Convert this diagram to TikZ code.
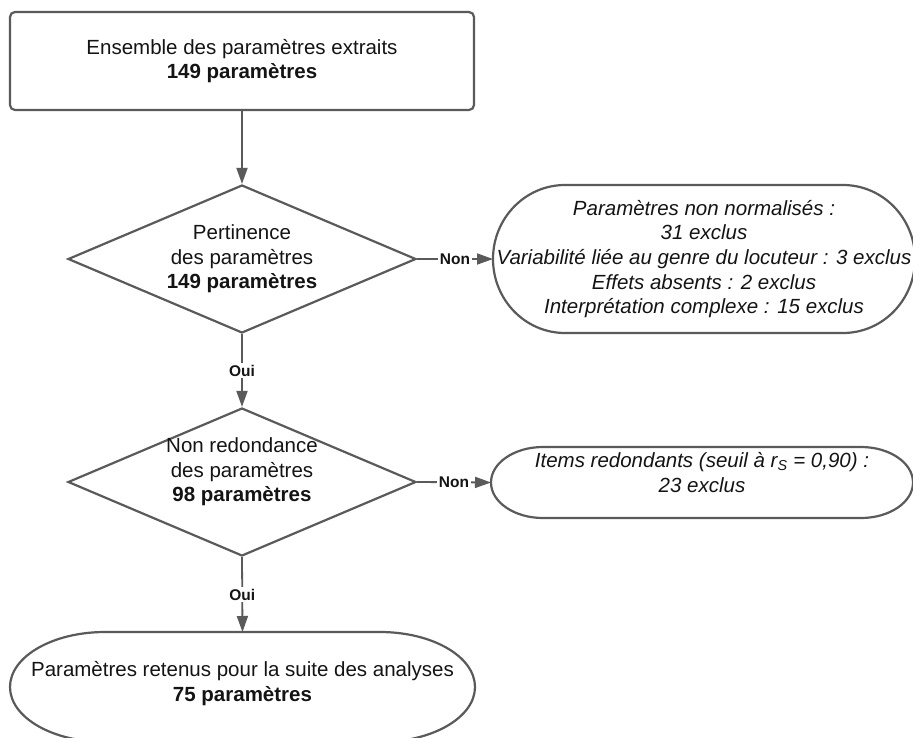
\documentclass[tikz,border=0pt]{standalone}
\usepackage{fontspec}
\setmainfont{Liberation Sans}
\usetikzlibrary{shapes.geometric,arrows.meta}
\definecolor{edge}{HTML}{5A5A5A}
\definecolor{ink}{HTML}{141414}
\tikzset{
  shapeline/.style={draw=edge,line width=2.2pt},
  conn/.style={draw=edge,line width=1.8pt,-{Triangle[length=16pt,width=11pt]}},
  lbl/.style={fill=white,inner sep=1.5pt,text=ink,font=\fontsize{15.5}{18}\selectfont\bfseries},
  txt/.style={align=center,text=ink,font=\fontsize{20.5}{24.6}\selectfont},
  itxt/.style={align=center,text=ink,font=\fontsize{20.5}{24.6}\selectfont\itshape},
  termbox/.style={inner sep=0pt,outer sep=0pt},
  decision/.style={diamond,shapeline,aspect=2.35,inner sep=0pt,minimum width=348pt,minimum height=148pt},
}
\newcommand\termoutline[3]{%
  \draw[shapeline] ([xshift=#2pt]#1.north west) -- ([xshift=-#2pt]#1.north east)
    arc[start angle=90,end angle=-90,x radius=#2pt,y radius=#3pt]
    -- ([xshift=#2pt]#1.south west)
    arc[start angle=270,end angle=90,x radius=#2pt,y radius=#3pt] -- cycle;}
\begin{document}
\begin{tikzpicture}[x=1pt,y=1pt]
\useasboundingbox (0,0) rectangle (913,-737);
\clip (0,0) rectangle (913,-737);

% start box
\node[shapeline,rounded corners=5pt,minimum width=464pt,minimum height=98pt,txt] (box) at (242,-61)
  {Ensemble des paramètres extraits\\\textbf{149 paramètres}};

% decisions
\node[decision,txt] (d1) at (242,-259) {Pertinence\\des paramètres\\\textbf{149 paramètres}};
\node[decision] (d2) at (242,-482) {};
\node[txt] (d2text) at (242,-472) {Non redondance\\des paramètres\\\textbf{98 paramètres}};

% exclusion terminals
\node[termbox,minimum width=422pt,minimum height=148pt,itxt] (s1) at (704,-259)
  {Paramètres non normalisés :\\31 exclus\\Variabilité liée au genre du locuteur : 3 exclus\\Effets absents : 2 exclus\\Interprétation complexe : 15 exclus};
\termoutline{s1}{72}{74}

\node[termbox,minimum width=422pt,minimum height=71pt] (s2) at (702,-482.5) {};
\termoutline{s2}{52}{35.5}
\node[itxt] (s2text) at (702,-472.5) {Items redondants (seuil à r\textsubscript{S} = 0,90) :\\23 exclus};

% final terminal
\node[termbox,minimum width=465pt,minimum height=110pt] (fin) at (242.5,-687) {};
\termoutline{fin}{95}{55}
\node[txt] (fintext) at (242.5,-683.5) {Paramètres retenus pour la suite des analyses\\\textbf{75 paramètres}};

% connectors
\draw[conn] (box.south) -- (d1.north);
\draw[conn] (d1.east) -- node[lbl] {Non} (s1.west);
\draw[conn] (d1.south) -- node[lbl] {Oui} (d2.north);
\draw[conn] (d2.east) -- node[lbl] {Non} (s2.west);
\draw[conn] (d2.south) -- node[lbl] {Oui} (fin.north);
\end{tikzpicture}
\end{document}
